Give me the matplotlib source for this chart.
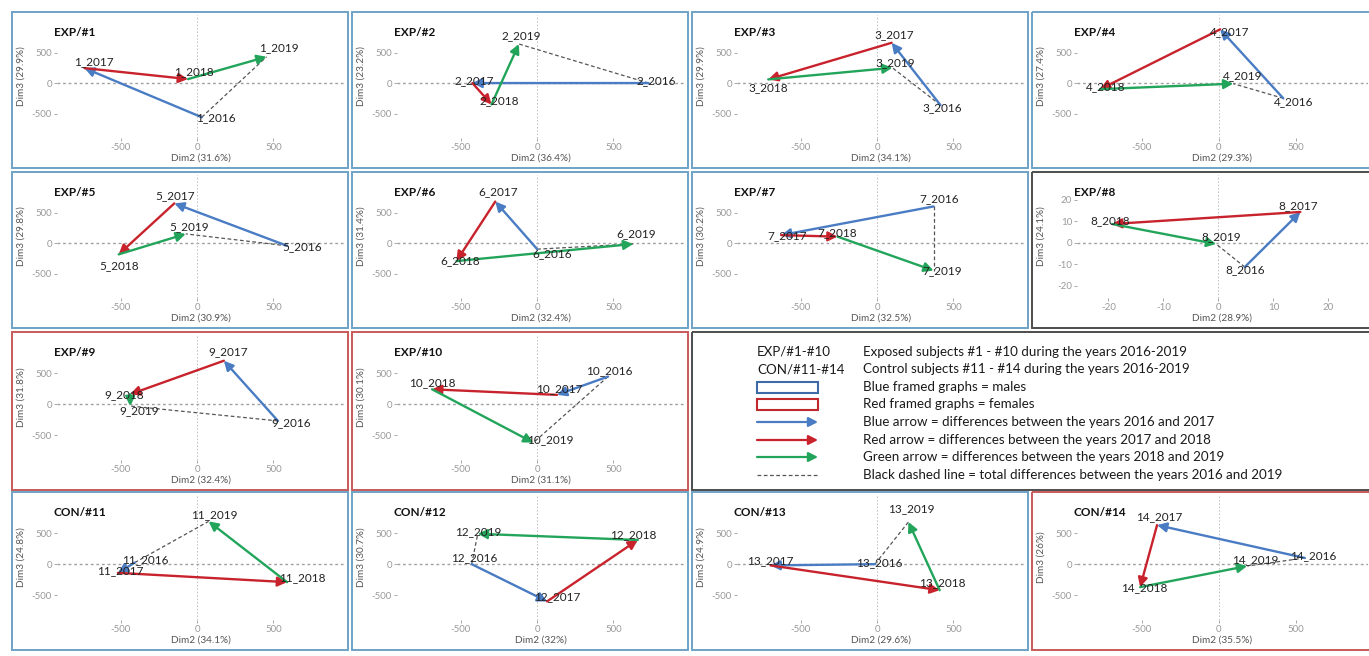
import matplotlib
matplotlib.use('Agg')
import matplotlib.pyplot as plt
from matplotlib.patches import Rectangle

plt.rcParams.update({
    'font.family': ['Lato', 'DejaVu Sans'],
    'axes.unicode_minus': False,
})

W, H = 1369, 656

# ---- data ----
years = ['2016', '2017', '2018', '2019']
titles = ['EXP/#1', 'EXP/#2', 'EXP/#3', 'EXP/#4', 'EXP/#5', 'EXP/#6', 'EXP/#7',
          'EXP/#8', 'EXP/#9', 'EXP/#10', 'CON/#11', 'CON/#12', 'CON/#13', 'CON/#14']
dim2_pct = ['31.6%', '36.4%', '34.1%', '29.3%', '30.9%', '32.4%', '32.5%',
            '28.9%', '32.4%', '31.1%', '34.1%', '32%', '29.6%', '35.5%']
dim3_pct = ['29.9%', '23.2%', '29.9%', '27.4%', '29.8%', '31.4%', '30.2%',
            '24.1%', '31.8%', '30.1%', '24.8%', '30.7%', '24.9%', '26%']
sex = ['M', 'M', 'M', 'M', 'M', 'M', 'M', 'M', 'F', 'F', 'M', 'M', 'M', 'F']

# Dim2 / Dim3 per subject, one value per year 2016..2019
dim2 = [
    [30, -740, -60, 455],
    [730, -425, -300, -120],
    [415, 95, -715, 100],
    [420, 10, -770, 95],
    [590, -150, -515, -75],
    [0, -275, -530, 630],
    [370, -630, -260, 370],
    [4.8, 14.9, -19.3, -0.4],
    [530, 175, -440, -440],
    [465, 130, -690, -25],
    [-410, -520, 590, 75],
    [-430, 65, 660, -390],
    [-15, -700, 410, 205],
    [560, -400, -510, 185],
]
dim3 = [
    [-560, 245, 65, 430],
    [0, 0, -350, 640],
    [-360, 660, 60, 250],
    [-250, 880, -100, -10],
    [-45, 650, -185, 150],
    [-100, 680, -295, -15],
    [600, 130, 105, -450],
    [-11.2, 14.4, 8.8, -0.5],
    [-270, 700, 160, -30],
    [445, 150, 240, -620],
    [25, -140, -290, 690],
    [0, -600, 390, 490],
    [0, -20, -420, 680],
    [100, 630, -370, -30],
]

legend_keys = ['EXP/#1-#10', 'CON/#11-#14']
legend_texts = [
    'Exposed subjects #1 - #10 during the years 2016-2019',
    'Control subjects #11 - #14 during the years 2016-2019',
    'Blue framed graphs = males',
    'Red framed graphs = females',
    'Blue arrow = differences between the years 2016 and 2017',
    'Red arrow = differences between the years 2017 and 2018',
    'Green arrow = differences between the years 2018 and 2019',
    'Black dashed line = total differences between the years 2016 and 2019',
]

# ---- layout / style ----
# label offsets in pixels (dx, dy up) for every point label
label_off = [
    [(14, 0), (9, 7), (6, 8), (12, 9)],
    [(8, 2), (2, 2), (8, 4), (2, 8)],
    [(2, -3), (3, 8), (0, -8), (3, 5)],
    [(10, -3), (9, -2), (6, 3), (9, 8)],
    [(15, -1), (1, 8), (0, -11), (3, 7)],
    [(15, -4), (3, 10), (4, 0), (3, 10)],
    [(6, 8), (6, 0), (0, 4), (9, 0)],
    [(0, -3), (-2, 6), (-2, 3), (5, 7)],
    [(13, -2), (4, 9), (-6, 0), (9, -5)],
    [(1, 6), (2, 6), (0, 7), (17, 3)],
    [(11, 3), (2, 2), (15, 5), (6, 7)],
    [(3, 7), (10, 5), (-5, 5), (0, 2)],
    [(4, 2), (0, 5), (3, 8), (3, 13)],
    [(8, 2), (2, 8), (4, 0), (8, 6)],
]

cols = [(12, 348), (352, 688), (692, 1028), (1032, 1371)]
rows = [(12, 168), (172, 328), (332, 490), (492, 650)]
cells = [(0, 0), (0, 1), (0, 2), (0, 3), (1, 0), (1, 1), (1, 2), (1, 3),
         (2, 0), (2, 1), (3, 0), (3, 1), (3, 2), (3, 3)]

c_blue, c_red, c_green = '#4a7cc4', '#c8232c', '#22a55b'
frame_col = {'M': '#6ea2c6', 'F': '#c85a5a'}
arrow_cols = [c_blue, c_red, c_green]

fig = plt.figure(figsize=(W / 100, H / 100), dpi=100)
bg = fig.add_axes([0, 0, 1, 1])
bg.set_xlim(0, W)
bg.set_ylim(H, 0)
bg.axis('off')

for k in range(14):
    r, c = cells[k]
    x0, x1 = cols[c]
    y0, y1 = rows[r]
    fc = frame_col[sex[k]]
    if k == 7:
        fc = '#4d4d4d'
    bg.add_patch(Rectangle((x0, y0), x1 - x0, y1 - y0, fill=False, ec=fc, lw=1.4))

    ax_l, ax_r = x0 + 45, min(x1 - 3, W - 1)
    ax_t, ax_b = y0 + 3, y1 - 30
    ax = fig.add_axes([ax_l / W, 1 - ax_b / H, (ax_r - ax_l) / W, (ax_b - ax_t) / H])
    ax.set_facecolor('none')
    for s in ax.spines.values():
        s.set_visible(False)
    if k == 7:
        ax.set_xlim(-25.7, 27.2)
        ax.set_ylim(-25.6, 31.6)
        ax.set_xticks([-20, -10, 0, 10, 20])
        ax.set_yticks([-20, -10, 0, 10, 20])
    else:
        ax.set_xlim(-920, 970)
        ax.set_ylim(-900, 1115)
        ax.set_xticks([-500, 0, 500])
        ax.set_yticks([-500, 0, 500])
    ax.tick_params(colors='#9a9a9a', labelsize=7, length=2, width=0.6, pad=1.5)
    ax.axhline(0, color='#a0a0a0', lw=1.0, ls=(0, (2, 2)), zorder=0)
    ax.axvline(0, color='#bdbdbd', lw=0.7, ls=(0, (1.5, 2)), zorder=0)

    xs, ys = dim2[k], dim3[k]
    ax.plot([xs[0], xs[3]], [ys[0], ys[3]], color='#555555', lw=0.9,
            ls=(0, (3, 2)), zorder=1)
    for i in range(3):
        ax.annotate('', xy=(xs[i + 1], ys[i + 1]), xytext=(xs[i], ys[i]),
                    arrowprops=dict(arrowstyle='-|>,head_length=0.55,head_width=0.28',
                                    color=arrow_cols[i], lw=1.7,
                                    shrinkA=0, shrinkB=0), zorder=2)
    for i in range(4):
        ax.annotate(f'{k + 1}_{years[i]}', (xs[i], ys[i]), xytext=label_off[k][i],
                    textcoords='offset pixels', ha='center', va='center',
                    fontsize=8.5, color='#222222', zorder=3)

    bg.text(x0 + 42, y0 + 21, titles[k], fontsize=8.5, fontweight='bold',
            ha='left', va='center', color='#111111')
    bg.text(x0 + 9, (ax_t + ax_b) / 2, f'Dim3 ({dim3_pct[k]})', rotation=90,
            fontsize=7.2, ha='center', va='center', color='#555555')
    bg.text((ax_l + ax_r) / 2, y1 - 10, f'Dim2 ({dim2_pct[k]})',
            fontsize=7.2, ha='center', va='center', color='#555555')

# ---- legend panel ----
bg.add_patch(Rectangle((692, 332), 1371 - 692, 490 - 332, fill=False,
                       ec='#4d4d4d', lw=1.4))
row_y = [352, 369, 387, 404, 422, 440, 457, 475]
for j, t in enumerate(legend_texts):
    bg.text(863, row_y[j], t, fontsize=9.6, ha='left', va='center', color='#1a1a1a')
for j, t in enumerate(legend_keys):
    bg.text(757, row_y[j], t, fontsize=9.6, ha='left', va='center', color='#1a1a1a')
bg.add_patch(Rectangle((757, row_y[2] - 5.5), 61, 11, fill=False, ec='#3e6aa8', lw=1.5))
bg.add_patch(Rectangle((757, row_y[3] - 5.5), 61, 11, fill=False, ec='#c0282d', lw=1.5))
for j, col in zip([4, 5, 6], arrow_cols):
    bg.annotate('', xy=(818, row_y[j]), xytext=(757, row_y[j]),
                arrowprops=dict(arrowstyle='-|>,head_length=0.55,head_width=0.28',
                                color=col, lw=1.6, shrinkA=0, shrinkB=0))
bg.plot([757, 818], [row_y[7], row_y[7]], color='#555555', lw=0.9, ls=(0, (3, 2)))

fig.savefig('out.png', dpi=100)
